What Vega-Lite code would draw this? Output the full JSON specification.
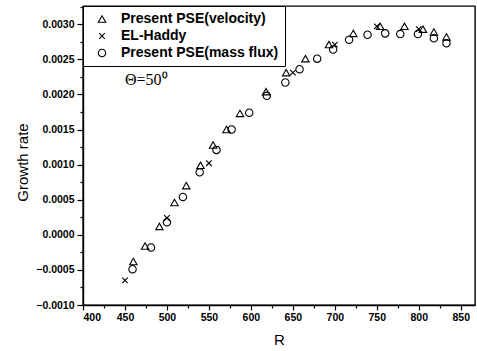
{
  "$schema": "https://vega.github.io/schema/vega-lite/v6.json",
  "width": 392,
  "height": 299,
  "autosize": {"type": "none"},
  "padding": {"left": 83, "top": 6, "right": 2, "bottom": 46},
  "background": "white",
  "config": {
    "view": {"stroke": "black", "strokeWidth": 1.4},
    "axis": {
      "domainColor": "black", "tickColor": "black", "labelColor": "black", "titleColor": "black",
      "grid": false, "labelFont": "Liberation Sans", "titleFont": "Liberation Sans",
      "labelFontSize": 10.5, "labelFontWeight": "bold", "titleFontSize": 15, "titleFontWeight": "normal", "domainWidth": 1.4, "tickWidth": 1.2
    },
    "legend": {
      "orient": "top-left", "offset": 0, "strokeColor": "black", "fillColor": "white",
      "padding": 6, "labelFont": "Liberation Sans", "labelFontSize": 14, "labelFontWeight": "bold", "labelColor": "black",
      "symbolSize": 55, "symbolStrokeColor": "black", "symbolStrokeWidth": 1.1, "rowPadding": 3,
      "symbolOffset": 6, "labelOffset": 12, "cornerRadius": 0
    }
  },
  "datasets": {
    "pts": [
      {"series": "Present PSE(velocity)", "R": 460, "G": -0.00038},
      {"series": "Present PSE(velocity)", "R": 474, "G": -0.00016},
      {"series": "Present PSE(velocity)", "R": 491, "G": 0.00012},
      {"series": "Present PSE(velocity)", "R": 509, "G": 0.00046},
      {"series": "Present PSE(velocity)", "R": 523, "G": 0.00070},
      {"series": "Present PSE(velocity)", "R": 540, "G": 0.00099},
      {"series": "Present PSE(velocity)", "R": 555, "G": 0.00128},
      {"series": "Present PSE(velocity)", "R": 571, "G": 0.00150},
      {"series": "Present PSE(velocity)", "R": 587, "G": 0.00173},
      {"series": "Present PSE(velocity)", "R": 618, "G": 0.00204},
      {"series": "Present PSE(velocity)", "R": 642, "G": 0.00231},
      {"series": "Present PSE(velocity)", "R": 665, "G": 0.00251},
      {"series": "Present PSE(velocity)", "R": 693, "G": 0.00271},
      {"series": "Present PSE(velocity)", "R": 722, "G": 0.00287},
      {"series": "Present PSE(velocity)", "R": 754, "G": 0.00297},
      {"series": "Present PSE(velocity)", "R": 783, "G": 0.00297},
      {"series": "Present PSE(velocity)", "R": 805, "G": 0.00293},
      {"series": "Present PSE(velocity)", "R": 818, "G": 0.00289},
      {"series": "Present PSE(velocity)", "R": 833, "G": 0.00282},
      {"series": "EL-Haddy", "R": 450, "G": -0.00065},
      {"series": "EL-Haddy", "R": 500, "G": 0.00024},
      {"series": "EL-Haddy", "R": 550, "G": 0.00102},
      {"series": "EL-Haddy", "R": 650, "G": 0.00231},
      {"series": "EL-Haddy", "R": 700, "G": 0.00271},
      {"series": "EL-Haddy", "R": 750, "G": 0.00297},
      {"series": "EL-Haddy", "R": 800, "G": 0.00293},
      {"series": "Present PSE(mass flux)", "R": 459, "G": -0.00049},
      {"series": "Present PSE(mass flux)", "R": 481, "G": -0.00018},
      {"series": "Present PSE(mass flux)", "R": 500, "G": 0.00018},
      {"series": "Present PSE(mass flux)", "R": 519, "G": 0.00054},
      {"series": "Present PSE(mass flux)", "R": 539, "G": 0.00089},
      {"series": "Present PSE(mass flux)", "R": 559, "G": 0.00121},
      {"series": "Present PSE(mass flux)", "R": 577, "G": 0.00150},
      {"series": "Present PSE(mass flux)", "R": 598, "G": 0.00174},
      {"series": "Present PSE(mass flux)", "R": 619, "G": 0.00198},
      {"series": "Present PSE(mass flux)", "R": 641, "G": 0.00217},
      {"series": "Present PSE(mass flux)", "R": 658, "G": 0.00236},
      {"series": "Present PSE(mass flux)", "R": 679, "G": 0.00251},
      {"series": "Present PSE(mass flux)", "R": 698, "G": 0.00264},
      {"series": "Present PSE(mass flux)", "R": 717, "G": 0.00278},
      {"series": "Present PSE(mass flux)", "R": 739, "G": 0.00285},
      {"series": "Present PSE(mass flux)", "R": 760, "G": 0.00287},
      {"series": "Present PSE(mass flux)", "R": 778, "G": 0.00286},
      {"series": "Present PSE(mass flux)", "R": 799, "G": 0.00286},
      {"series": "Present PSE(mass flux)", "R": 818, "G": 0.00280},
      {"series": "Present PSE(mass flux)", "R": 833, "G": 0.00273}
    ],
    "ann": [{"R": 450, "G": 0.00221, "label": "Θ=50⁰"}]
  },
  "layer": [
    {
      "data": {"name": "pts"},
      "mark": {"type": "point", "filled": false, "stroke": "black", "strokeWidth": 1.1, "size": 55, "opacity": 1},
      "encoding": {
        "x": {
          "field": "R", "type": "quantitative",
          "scale": {"domain": [400, 867], "nice": false, "zero": false},
          "axis": {"title": "R", "values": [400, 450, 500, 550, 600, 650, 700, 750, 800, 850], "format": "d",
                   "tickSize": 5, "labelPadding": 2, "titlePadding": 10, "orient": "bottom"}
        },
        "y": {
          "field": "G", "type": "quantitative",
          "scale": {"domain": [-0.001, 0.00326], "nice": false, "zero": false},
          "axis": {"title": "Growth rate", "values": [-0.001, -0.0005, 0, 0.0005, 0.001, 0.0015, 0.002, 0.0025, 0.003],
                   "format": ".4f", "tickSize": 6, "labelPadding": 3, "titlePadding": 5, "titleY": 156, "orient": "left"}
        },
        "shape": {
          "field": "series", "type": "nominal",
          "scale": {"domain": ["Present PSE(velocity)", "EL-Haddy", "Present PSE(mass flux)"],
                    "range": ["triangle-up", "M-0.75,-0.75L0.75,0.75M-0.75,0.75L0.75,-0.75", "circle"]},
          "legend": {"title": null}
        }
      }
    },
    {
      "data": {"name": "ann"},
      "mark": {"type": "text", "font": "Liberation Serif", "fontSize": 16, "align": "left", "baseline": "middle", "color": "black"},
      "encoding": {
        "x": {"field": "R", "type": "quantitative",
              "axis": {"title": null, "values": [425, 475, 525, 575, 625, 675, 725, 775, 825], "labels": false,
                       "domain": false, "tickSize": 3, "orient": "bottom"}},
        "y": {"field": "G", "type": "quantitative",
              "axis": {"title": null, "values": [-0.00075, -0.00025, 0.00025, 0.00075, 0.00125, 0.00175, 0.00225, 0.00275, 0.00325],
                       "labels": false, "domain": false, "tickSize": 3, "orient": "left"}},
        "text": {"field": "label"}
      }
    }
  ],
  "resolve": {"axis": {"x": "independent", "y": "independent"}}
}
